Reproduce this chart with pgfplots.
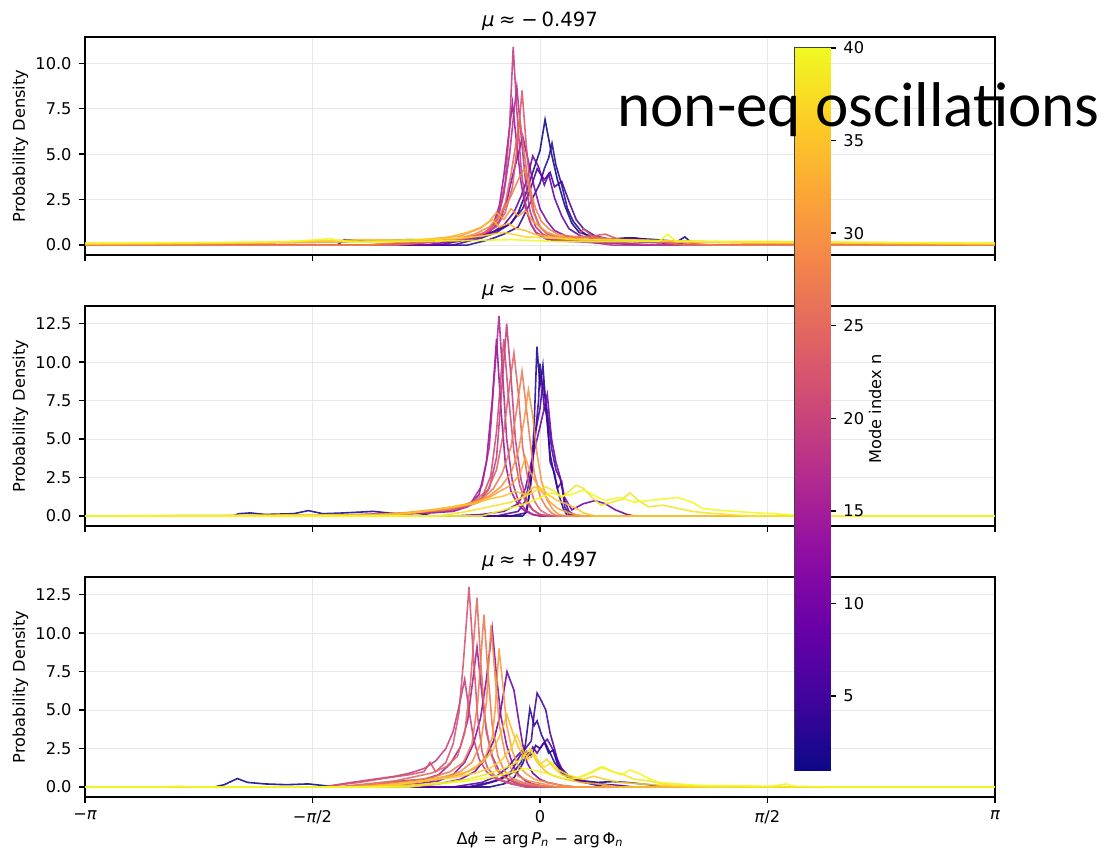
\documentclass[border=0pt]{standalone}
\usepackage{pgfplots}
\pgfplotsset{compat=1.18}
\usepackage{fontspec}
\setmainfont{DejaVu Sans}
\newfontfamily\carlito{Carlito}
\pgfplotsset{colormap={plasma}{rgb255=(13,8,135) rgb255=(65,4,157) rgb255=(106,0,168) rgb255=(143,13,164) rgb255=(177,42,144) rgb255=(204,71,120) rgb255=(225,100,98) rgb255=(242,132,75) rgb255=(252,166,54) rgb255=(252,206,37) rgb255=(240,249,33)}}
\pgfplotsset{
  ser/.style={color of colormap={#1 of plasma}, line width=0.8pt, opacity=0.88},
  panel/.style={scale only axis, width=455pt, anchor=south west,
    xmin=-3.14159, xmax=3.14159,
    xtick={-3.14159,-1.5708,0,1.5708,3.14159},
    tick pos=left, tick align=outside, major tick length=3.2pt,
    grid=major, grid style={line width=0.5pt, gray!18},
    axis line style={line width=0.7pt},
    tick style={black, line width=0.7pt},
    tick label style={font=\fontsize{8.1}{10}\selectfont},
    /pgf/number format/assume math mode=true,
    yticklabel style={/pgf/number format/.cd, fixed, fixed zerofill, precision=1},
    no markers,
  },
}
\begin{document}
\begin{tikzpicture}
\useasboundingbox (0,0) rectangle (554.5pt,426pt);
% ---------------- Panel 1 ----------------
\begin{axis}[panel, at={(42.5pt,298.5pt)}, height=109pt, ymin=-0.545, ymax=11.445,
  ytick={0,2.5,5,7.5,10}, xticklabels={}]
\addplot[ser=0] coordinates {(-3.14,0)(-1.4,0)(-1.35,0.3)(-1.2,0.2)(-0.9,0.3)(-0.6,0.2)(-0.4,0.5)(-0.3,0.8)(-0.2,1.2)(-0.15,1.8)(-0.1,2.8)(-0.05,4.0)(0.0,5.2)(0.035,6.9)(0.08,5.0)(0.12,3.6)(0.17,2.2)(0.22,1.2)(0.27,0.7)(0.35,0.5)(0.45,0.3)(0.6,0.4)(0.8,0.3)(0.95,0.2)(1.0,0.45)(1.05,0.1)(1.1,0)(3.14,0)};
\addplot[ser=51] coordinates {(-3.14,0)(-0.5,0)(-0.35,0.3)(-0.25,0.6)(-0.15,1.0)(-0.1,1.8)(-0.05,2.6)(0,3.4)(0.03,4.2)(0.06,4.8)(0.083,5.6)(0.11,4.4)(0.15,3.3)(0.19,2.0)(0.23,1.3)(0.28,0.8)(0.33,0.5)(0.4,0.3)(0.55,0.2)(0.7,0.3)(0.9,0.1)(1.0,0)(3.14,0)};
\addplot[ser=103] coordinates {(-3.14,0)(-0.6,0)(-0.4,0.4)(-0.3,0.7)(-0.2,1.2)(-0.12,2.0)(-0.07,3.0)(-0.02,4.2)(0.03,3.6)(0.07,4.0)(0.1,3.2)(0.15,3.5)(0.2,2.4)(0.25,1.4)(0.3,0.9)(0.38,0.5)(0.5,0.3)(0.65,0.4)(0.8,0.2)(1.0,0)(3.14,0)};
\addplot[ser=179] coordinates {(-3.14,0)(-0.7,0)(-0.5,0.3)(-0.35,0.6)(-0.25,1.1)(-0.18,1.8)(-0.13,2.7)(-0.09,3.6)(-0.05,4.9)(-0.01,4.3)(0.03,3.3)(0.06,3.9)(0.1,2.6)(0.15,1.6)(0.2,0.9)(0.28,0.5)(0.4,0.3)(0.6,0.2)(0.9,0.1)(1.1,0)(3.14,0)};
\addplot[ser=256] coordinates {(-3.14,0)(-0.8,0)(-0.6,0.2)(-0.45,0.4)(-0.35,0.7)(-0.28,1.3)(-0.23,2.4)(-0.19,3.8)(-0.15,5.0)(-0.12,6.0)(-0.08,4.6)(-0.04,3.2)(0,2.0)(0.05,1.3)(0.1,0.8)(0.18,0.5)(0.3,0.3)(0.5,0.2)(0.7,0)(3.14,0)};
\addplot[ser=333] coordinates {(-3.14,0)(-1.0,0)(-0.7,0.2)(-0.5,0.3)(-0.38,0.6)(-0.32,1.2)(-0.28,2.2)(-0.25,3.8)(-0.22,5.8)(-0.19,7.8)(-0.16,5.5)(-0.13,3.4)(-0.1,2.0)(-0.06,1.1)(-0.02,0.6)(0.05,0.3)(0.2,0.2)(0.5,0.1)(0.7,0)(3.14,0)};
\addplot[ser=410] coordinates {(-3.14,0)(-1.0,0)(-0.7,0.2)(-0.45,0.4)(-0.35,0.8)(-0.29,1.5)(-0.25,2.8)(-0.21,5.0)(-0.18,7.3)(-0.16,8.7)(-0.13,6.0)(-0.1,3.5)(-0.07,1.9)(-0.03,1.0)(0.02,0.6)(0.1,0.3)(0.3,0.2)(0.5,0)(3.14,0)};
\addplot[ser=462] coordinates {(-3.14,0)(-1.2,0)(-0.8,0.2)(-0.55,0.3)(-0.4,0.6)(-0.33,1.0)(-0.28,1.9)(-0.24,3.5)(-0.21,6.5)(-0.185,10.9)(-0.16,7.4)(-0.13,4.2)(-0.1,2.3)(-0.07,1.3)(-0.03,0.7)(0.05,0.4)(0.15,0.3)(0.3,0.2)(0.6,0.1)(0.8,0)(3.14,0)};
\addplot[ser=553] coordinates {(-3.14,0)(-1.1,0)(-0.8,0.2)(-0.55,0.3)(-0.4,0.6)(-0.3,1.0)(-0.24,1.8)(-0.19,3.2)(-0.155,5.6)(-0.124,8.5)(-0.1,6.0)(-0.07,3.3)(-0.04,1.8)(0,1.0)(0.05,0.6)(0.12,0.4)(0.25,0.3)(0.3,0.9)(0.36,0.5)(0.45,0.6)(0.55,0.3)(0.8,0.2)(1.0,0)(3.14,0)};
\addplot[ser=615] coordinates {(-3.14,0)(-1.0,0)(-0.7,0.2)(-0.5,0.4)(-0.38,0.7)(-0.3,1.2)(-0.24,2.3)(-0.2,3.9)(-0.17,5.4)(-0.14,7.0)(-0.11,5.2)(-0.08,3.2)(-0.05,1.9)(-0.01,1.1)(0.04,0.7)(0.1,0.5)(0.2,0.4)(0.35,0.5)(0.5,0.3)(0.8,0.2)(1.0,0)(3.14,0)};
\addplot[ser=692] coordinates {(-3.14,0)(-1.2,0)(-0.9,0.2)(-0.6,0.3)(-0.45,0.6)(-0.35,1.0)(-0.27,1.7)(-0.2,2.7)(-0.15,3.6)(-0.11,4.2)(-0.07,3.1)(-0.03,2.0)(0.01,1.3)(0.06,0.9)(0.12,0.6)(0.2,0.5)(0.35,0.4)(0.55,0.3)(0.9,0.2)(1.2,0)(3.14,0)};
\addplot[ser=769] coordinates {(-3.14,0.05)(-2.0,0.1)(-1.5,0.15)(-1.1,0.2)(-0.8,0.3)(-0.55,0.5)(-0.42,0.9)(-0.35,1.3)(-0.3,1.8)(-0.25,1.4)(-0.2,2.0)(-0.15,1.6)(-0.1,1.9)(-0.05,1.3)(0,1.0)(0.05,0.7)(0.12,0.5)(0.2,0.4)(0.35,0.3)(0.6,0.3)(0.9,0.2)(1.5,0.1)(3.14,0.05)};
\addplot[ser=846] coordinates {(-3.14,0.05)(-2.2,0.1)(-1.6,0.2)(-1.2,0.3)(-0.9,0.25)(-0.65,0.4)(-0.5,0.7)(-0.4,1.0)(-0.33,1.4)(-0.28,1.0)(-0.22,1.2)(-0.16,0.9)(-0.1,0.8)(-0.04,0.6)(0.03,0.5)(0.12,0.4)(0.3,0.3)(0.6,0.25)(1.0,0.2)(1.6,0.15)(3.14,0.05)};
\addplot[ser=923] coordinates {(-3.14,0.1)(-2.5,0.12)(-1.9,0.15)(-1.5,0.25)(-1.2,0.2)(-0.9,0.3)(-0.6,0.35)(-0.4,0.5)(-0.25,0.7)(-0.1,0.45)(0.05,0.4)(0.25,0.3)(0.5,0.3)(0.85,0.25)(1.2,0.2)(1.6,0.2)(2.2,0.15)(3.14,0.1)};
\addplot[ser=1000] coordinates {(-3.14,0.1)(-2.6,0.12)(-2.0,0.15)(-1.7,0.2)(-1.45,0.35)(-1.3,0.15)(-0.9,0.2)(-0.5,0.25)(-0.2,0.3)(0.1,0.2)(0.5,0.2)(0.82,0.2)(0.88,0.6)(0.94,0.2)(1.5,0.15)(2.0,0.15)(2.6,0.12)(3.14,0.1)};
\end{axis}
% ---------------- Panel 2 ----------------
\begin{axis}[panel, at={(42.5pt,163pt)}, height=110pt, ymin=-0.65, ymax=13.65,
  ytick={0,2.5,5,7.5,10,12.5}, xticklabels={}]
\addplot[ser=26] coordinates {(-3.14,0)(-2.12,0)(-2.08,0.15)(-2.0,0.2)(-1.9,0.1)(-1.7,0.15)(-1.6,0.35)(-1.5,0.15)(-1.35,0.2)(-1.15,0.3)(-1.0,0.15)(-0.85,0.2)(-0.75,0)(-0.12,0)(-0.09,0.3)(-0.06,2.5)(-0.04,6.0)(-0.021,11.0)(0.0,8.5)(0.02,9.8)(0.045,6.5)(0.07,4.0)(0.1,2.6)(0.13,1.4)(0.16,0.5)(0.19,0)(3.14,0)};
\addplot[ser=77] coordinates {(-3.14,0)(-0.2,0)(-0.1,0.2)(-0.07,1.5)(-0.04,4.5)(-0.01,7.5)(0.0,9.9)(0.03,7.0)(0.05,6.5)(0.07,3.5)(0.1,2.8)(0.12,1.8)(0.15,2.2)(0.17,0.6)(0.2,0.1)(0.25,0)(3.14,0)};
\addplot[ser=128] coordinates {(-3.14,0)(-0.3,0)(-0.15,0.3)(-0.1,1.0)(-0.06,3.0)(-0.03,5.5)(0.0,7.0)(0.02,8.7)(0.05,6.8)(0.08,4.4)(0.11,3.0)(0.14,2.4)(0.17,1.0)(0.2,0.3)(0.25,0)(3.14,0)};
\addplot[ser=205] coordinates {(-3.14,0)(-0.6,0)(-0.4,0.1)(-0.25,0.3)(-0.15,0.8)(-0.1,1.8)(-0.06,3.5)(-0.02,5.0)(0.01,6.2)(0.05,7.9)(0.08,5.0)(0.11,3.5)(0.14,2.5)(0.17,1.2)(0.22,0.4)(0.3,0.8)(0.38,1.0)(0.45,0.8)(0.52,0.4)(0.6,0.1)(0.65,0)(3.14,0)};
\addplot[ser=308] coordinates {(-3.14,0)(-1.3,0)(-1.0,0.1)(-0.75,0.2)(-0.6,0.3)(-0.5,0.6)(-0.42,1.4)(-0.37,3.5)(-0.33,7.5)(-0.3,11.5)(-0.27,7.0)(-0.24,3.5)(-0.2,1.6)(-0.15,0.7)(-0.1,0.3)(-0.05,0.1)(0,0)(3.14,0)};
\addplot[ser=385] coordinates {(-3.14,0)(-1.5,0)(-1.1,0.15)(-0.8,0.2)(-0.6,0.4)(-0.48,0.8)(-0.4,2.0)(-0.35,4.5)(-0.32,8.5)(-0.283,13.0)(-0.26,9.5)(-0.23,5.0)(-0.19,2.2)(-0.15,1.0)(-0.1,0.4)(-0.05,0.1)(0,0)(3.14,0)};
\addplot[ser=462] coordinates {(-3.14,0)(-1.4,0)(-1.0,0.15)(-0.75,0.3)(-0.55,0.5)(-0.42,0.9)(-0.35,1.8)(-0.3,3.8)(-0.27,7.5)(-0.23,12.5)(-0.2,9.0)(-0.17,5.0)(-0.13,2.3)(-0.09,1.0)(-0.05,0.4)(0,0.1)(0.05,0)(3.14,0)};
\addplot[ser=513] coordinates {(-3.14,0)(-1.2,0)(-0.9,0.2)(-0.65,0.35)(-0.5,0.6)(-0.4,1.2)(-0.34,2.6)(-0.3,5.5)(-0.27,9.0)(-0.25,11.5)(-0.22,8.0)(-0.18,4.2)(-0.14,2.0)(-0.1,0.9)(-0.05,0.4)(0,0.1)(0.05,0)(3.14,0)};
\addplot[ser=590] coordinates {(-3.14,0)(-1.2,0)(-0.9,0.2)(-0.7,0.35)(-0.55,0.6)(-0.45,1.0)(-0.36,1.7)(-0.3,3.0)(-0.25,5.5)(-0.21,8.5)(-0.18,10.6)(-0.15,8.0)(-0.12,4.5)(-0.08,2.2)(-0.04,1.0)(0,0.4)(0.05,0.1)(0.1,0)(3.14,0)};
\addplot[ser=667] coordinates {(-3.14,0)(-1.1,0)(-0.85,0.25)(-0.65,0.4)(-0.5,0.7)(-0.4,1.1)(-0.32,1.8)(-0.26,2.8)(-0.2,4.5)(-0.16,7.0)(-0.124,9.4)(-0.1,7.5)(-0.07,5.0)(-0.04,2.8)(0,1.3)(0.04,0.6)(0.08,0.2)(0.12,0)(3.14,0)};
\addplot[ser=744] coordinates {(-3.14,0)(-1.0,0)(-0.8,0.3)(-0.6,0.5)(-0.45,0.9)(-0.35,1.3)(-0.27,1.9)(-0.2,2.8)(-0.15,4.2)(-0.11,6.2)(-0.08,8.2)(-0.05,6.5)(-0.02,4.0)(0.01,2.3)(0.05,1.0)(0.09,0.4)(0.13,0.1)(0.18,0)(3.14,0)};
\addplot[ser=795] coordinates {(-3.14,0)(-1.2,0.05)(-0.95,0.2)(-0.75,0.4)(-0.6,0.6)(-0.45,0.9)(-0.35,1.2)(-0.28,1.6)(-0.2,2.0)(-0.14,2.7)(-0.1,3.8)(-0.07,2.9)(-0.03,2.2)(0.02,1.5)(0.07,0.9)(0.12,0.5)(0.2,0.2)(0.3,0)(3.14,0)};
\addplot[ser=872] coordinates {(-3.14,0)(-1.0,0.1)(-0.8,0.3)(-0.6,0.6)(-0.45,0.8)(-0.35,1.1)(-0.25,1.3)(-0.17,1.6)(-0.1,1.4)(-0.04,1.9)(0.02,1.7)(0.07,1.3)(0.12,1.0)(0.18,0.8)(0.25,0.5)(0.3,0.2)(0.38,0)(3.14,0)};
\addplot[ser=949] coordinates {(-3.14,0)(-0.7,0)(-0.5,0.3)(-0.35,0.6)(-0.2,0.9)(-0.1,1.3)(-0.02,1.7)(0.04,1.9)(0.1,1.6)(0.15,1.2)(0.2,1.6)(0.25,2.0)(0.3,1.8)(0.36,1.2)(0.42,0.7)(0.5,0.9)(0.57,1.1)(0.62,1.5)(0.68,1.0)(0.75,0.6)(0.85,0.7)(0.95,0.5)(1.05,0.3)(1.15,0.2)(1.3,0.1)(1.45,0)(3.14,0)};
\addplot[ser=1000] coordinates {(-3.14,0)(-0.4,0)(-0.25,0.4)(-0.1,0.8)(0.0,1.2)(0.08,1.5)(0.15,1.3)(0.22,1.4)(0.3,1.7)(0.38,1.3)(0.45,1.0)(0.55,1.2)(0.65,0.9)(0.75,1.0)(0.85,1.1)(0.95,1.2)(1.05,0.9)(1.12,0.5)(1.2,0.4)(1.35,0.3)(1.5,0.2)(1.7,0.1)(1.8,0)(3.14,0)};
\end{axis}
% ---------------- Panel 3 ----------------
\begin{axis}[panel, at={(42.5pt,27.5pt)}, height=110pt, ymin=-0.65, ymax=13.65,
  ytick={0,2.5,5,7.5,10,12.5},
  xticklabels={−{\itshape π},−{\itshape π}/2,0,{\itshape π}/2,{\itshape π}}]
\addplot[ser=0] coordinates {(-3.14,0)(-2.25,0)(-2.18,0.15)(-2.09,0.55)(-2.02,0.3)(-1.9,0.2)(-1.75,0.15)(-1.6,0.2)(-1.5,0.1)(-1.4,0)(-0.35,0)(-0.25,0.2)(-0.18,0.6)(-0.12,1.5)(-0.09,2.3)(-0.06,2.0)(-0.03,2.7)(0.0,2.5)(0.03,2.9)(0.06,2.2)(0.09,2.4)(0.12,1.5)(0.15,1.0)(0.2,0.7)(0.25,0.5)(0.3,0.4)(0.4,0.3)(0.5,0.35)(0.6,0.3)(0.7,0.2)(0.8,0.1)(0.85,0)(3.14,0)};
\addplot[ser=51] coordinates {(-3.14,0)(-0.5,0)(-0.35,0.3)(-0.25,0.6)(-0.18,1.0)(-0.13,1.6)(-0.1,2.8)(-0.07,5.1)(-0.04,4.0)(-0.02,4.3)(0.01,3.4)(0.03,3.0)(0.06,2.4)(0.1,1.6)(0.15,0.9)(0.2,0.6)(0.27,0.4)(0.35,0.2)(0.45,0)(3.14,0)};
\addplot[ser=103] coordinates {(-3.14,0)(-0.45,0)(-0.3,0.4)(-0.2,1.0)(-0.14,2.0)(-0.1,2.5)(-0.06,3.0)(-0.04,4.8)(-0.02,6.1)(0.01,5.6)(0.04,5.0)(0.07,3.5)(0.1,2.5)(0.13,1.4)(0.18,0.8)(0.23,0.5)(0.3,0.3)(0.4,0.2)(0.55,0.1)(0.65,0)(3.14,0)};
\addplot[ser=154] coordinates {(-3.14,0)(-0.6,0)(-0.4,0.3)(-0.3,0.7)(-0.22,1.3)(-0.17,1.9)(-0.12,2.4)(-0.08,2.0)(-0.05,2.6)(-0.02,2.2)(0.02,2.8)(0.05,3.1)(0.08,2.6)(0.11,2.0)(0.15,1.2)(0.2,0.7)(0.26,0.5)(0.33,0.3)(0.45,0.15)(0.6,0)(3.14,0)};
\addplot[ser=205] coordinates {(-3.14,0)(-0.9,0)(-0.7,0.2)(-0.55,0.5)(-0.45,1.0)(-0.38,1.8)(-0.32,3.0)(-0.28,4.5)(-0.25,6.2)(-0.228,7.5)(-0.2,6.8)(-0.18,6.3)(-0.15,4.5)(-0.12,2.8)(-0.09,1.6)(-0.05,0.9)(0,0.5)(0.05,0.3)(0.15,0.1)(0.25,0)(3.14,0)};
\addplot[ser=282] coordinates {(-3.14,0)(-1.1,0)(-0.85,0.2)(-0.7,0.4)(-0.6,0.8)(-0.52,1.6)(-0.46,2.8)(-0.41,4.5)(-0.37,7.0)(-0.33,10.3)(-0.3,7.2)(-0.27,4.6)(-0.23,2.7)(-0.19,1.5)(-0.15,0.8)(-0.1,0.4)(-0.05,0.2)(0.05,0)(3.14,0)};
\addplot[ser=359] coordinates {(-3.14,0)(-1.3,0)(-1.1,0.2)(-0.95,0.4)(-0.8,0.5)(-0.7,0.8)(-0.62,1.5)(-0.55,2.6)(-0.5,4.3)(-0.47,6.5)(-0.435,9.1)(-0.4,6.0)(-0.37,3.6)(-0.33,2.0)(-0.28,1.0)(-0.22,0.5)(-0.15,0.2)(-0.05,0)(3.14,0)};
\addplot[ser=462] coordinates {(-3.14,0)(-1.5,0)(-1.3,0.3)(-1.15,0.5)(-1.0,0.7)(-0.9,0.9)(-0.8,1.2)(-0.72,1.7)(-0.65,2.5)(-0.6,3.6)(-0.56,5.2)(-0.52,7.0)(-0.49,5.0)(-0.46,3.2)(-0.42,1.8)(-0.37,1.0)(-0.3,0.5)(-0.2,0.2)(-0.1,0)(3.14,0)};
\addplot[ser=538] coordinates {(-3.14,0)(-1.5,0)(-1.25,0.3)(-1.05,0.6)(-0.9,0.8)(-0.8,1.0)(-0.76,1.6)(-0.72,1.0)(-0.65,1.6)(-0.6,2.8)(-0.56,4.8)(-0.53,8.0)(-0.49,13.0)(-0.46,8.5)(-0.43,4.5)(-0.4,2.3)(-0.36,1.2)(-0.3,0.6)(-0.22,0.3)(-0.1,0.1)(0,0)(3.14,0)};
\addplot[ser=615] coordinates {(-3.14,0)(-1.4,0)(-1.2,0.2)(-1.0,0.4)(-0.85,0.7)(-0.75,0.9)(-0.65,1.3)(-0.57,2.0)(-0.52,3.5)(-0.48,6.8)(-0.435,12.3)(-0.41,8.2)(-0.38,4.4)(-0.34,2.2)(-0.3,1.1)(-0.24,0.6)(-0.15,0.3)(-0.05,0.1)(0.05,0)(3.14,0)};
\addplot[ser=667] coordinates {(-3.14,0)(-1.3,0)(-1.1,0.2)(-0.9,0.4)(-0.75,0.6)(-0.62,1.0)(-0.53,1.6)(-0.47,2.8)(-0.43,5.5)(-0.387,11.2)(-0.36,7.5)(-0.33,4.0)(-0.29,2.0)(-0.25,1.1)(-0.2,0.6)(-0.12,0.3)(0,0.1)(0.1,0)(3.14,0)};
\addplot[ser=718] coordinates {(-3.14,0)(-1.2,0)(-1.0,0.2)(-0.8,0.4)(-0.65,0.7)(-0.55,1.0)(-0.47,1.6)(-0.41,2.8)(-0.37,5.5)(-0.338,10.5)(-0.31,7.2)(-0.28,4.0)(-0.24,2.1)(-0.2,1.2)(-0.15,0.7)(-0.08,0.4)(0.02,0.2)(0.12,0)(3.14,0)};
\addplot[ser=769] coordinates {(-3.14,0)(-1.1,0)(-0.9,0.25)(-0.7,0.5)(-0.55,0.8)(-0.45,1.2)(-0.38,1.9)(-0.33,3.2)(-0.31,5.0)(-0.283,9.0)(-0.255,6.5)(-0.23,4.0)(-0.19,2.3)(-0.15,1.4)(-0.1,0.9)(-0.04,0.5)(0.05,0.3)(0.15,0.1)(0.25,0)(3.14,0)};
\addplot[ser=846] coordinates {(-3.14,0)(-1.3,0)(-1.0,0.2)(-0.8,0.4)(-0.62,0.7)(-0.5,1.0)(-0.4,1.6)(-0.33,2.3)(-0.27,3.5)(-0.228,4.7)(-0.19,3.6)(-0.15,2.6)(-0.1,1.8)(-0.06,2.4)(-0.02,1.6)(0.04,1.0)(0.1,0.7)(0.18,0.5)(0.28,0.3)(0.4,0.2)(0.55,0)(3.14,0)};
\addplot[ser=897] coordinates {(-3.14,0)(-1.2,0)(-0.95,0.2)(-0.75,0.5)(-0.6,0.6)(-0.45,0.9)(-0.35,1.2)(-0.27,1.7)(-0.2,2.5)(-0.16,3.4)(-0.12,2.4)(-0.08,1.8)(-0.04,2.2)(0.0,1.5)(0.05,1.8)(0.1,1.2)(0.15,0.8)(0.22,0.6)(0.3,0.5)(0.37,0.7)(0.45,0.5)(0.55,0.3)(0.7,0.2)(0.85,0.1)(1.0,0)(3.14,0)};
\addplot[ser=949] coordinates {(-3.14,0)(-1.1,0)(-0.85,0.15)(-0.65,0.3)(-0.5,0.5)(-0.38,0.8)(-0.28,1.1)(-0.2,1.4)(-0.13,1.8)(-0.07,2.5)(-0.02,1.7)(0.03,1.3)(0.08,1.6)(0.13,1.1)(0.19,0.8)(0.26,0.6)(0.34,0.9)(0.42,1.3)(0.5,1.0)(0.58,0.8)(0.65,0.5)(0.75,0.4)(0.85,0.2)(1.0,0.1)(1.15,0)(3.14,0)};
\addplot[ser=1000] coordinates {(-3.14,0)(-2.6,0)(-2.5,0.05)(-2.4,0)(-0.9,0)(-0.7,0.2)(-0.5,0.4)(-0.35,0.6)(-0.22,0.9)(-0.1,1.2)(0.0,1.0)(0.08,0.8)(0.15,0.6)(0.22,0.5)(0.3,0.7)(0.37,1.0)(0.44,1.3)(0.5,1.0)(0.56,0.8)(0.62,1.1)(0.68,0.9)(0.74,0.6)(0.82,0.3)(0.95,0.2)(1.1,0.1)(1.6,0.05)(1.7,0.2)(1.75,0.05)(2.0,0)(3.14,0)};
\end{axis}
% ---------------- Colorbar ----------------
\begin{axis}[at={(397.5pt,41pt)}, anchor=south west, scale only axis, width=17.5pt, height=361pt,
  xmin=0, xmax=1, ymin=1, ymax=40, xtick=\empty, ytick={5,10,...,40},
  yticklabel pos=right, ytick pos=right, tick align=outside, major tick length=3.2pt,
  axis line style={line width=0.6pt, black!75}, tick style={black, line width=0.7pt},
  tick label style={font=\fontsize{8.1}{10}\selectfont}, /pgf/number format/assume math mode=true,
  colormap name=plasma]
\addplot[surf, shader=interp, point meta=y, mesh/cols=2] coordinates {(0,1) (1,1) (0,40) (1,40)};
\end{axis}
% ---------------- Texts ----------------
\begin{scope}[every node/.style={inner sep=0pt}]
\node[anchor=base, font=\fontsize{9.8}{12}\selectfont] at (270pt,412.5pt) {{\itshape μ}\hspace{0.22em}≈\hspace{0.3em}−\hspace{0.2em}0.497};
\node[anchor=base, font=\fontsize{9.8}{12}\selectfont] at (270pt,278pt) {{\itshape μ}\hspace{0.22em}≈\hspace{0.3em}−\hspace{0.2em}0.006};
\node[anchor=base, font=\fontsize{9.8}{12}\selectfont] at (270pt,142.5pt) {{\itshape μ}\hspace{0.22em}≈\hspace{0.3em}+\hspace{0.2em}0.497};
\node[anchor=base, rotate=90, font=\fontsize{8.1}{10}\selectfont] at (12.5pt,353pt) {Probability Density};
\node[anchor=base, rotate=90, font=\fontsize{8.1}{10}\selectfont] at (12.5pt,218pt) {Probability Density};
\node[anchor=base, rotate=90, font=\fontsize{8.1}{10}\selectfont] at (12.5pt,82.5pt) {Probability Density};
\node[anchor=base, font=\fontsize{8.1}{10}\selectfont] at (270pt,4pt) {Δ{\itshape ϕ} = arg\,{\itshape P}\textsubscript{\itshape n} − arg\,Φ\textsubscript{\itshape n}};
\node[anchor=base, rotate=90, font=\fontsize{8.1}{10}\selectfont] at (440.5pt,221.5pt) {Mode index n};
\node[anchor=base west, font=\carlito\fontsize{31.6}{36}\selectfont] at (308.5pt,362.5pt) {non-eq oscillations};
\end{scope}
\end{tikzpicture}
\end{document}
